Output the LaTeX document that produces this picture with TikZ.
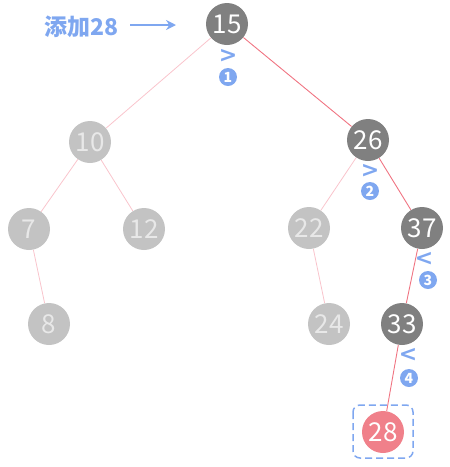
\documentclass[tikz,border=0pt]{standalone}
\usepackage{fontspec}
\setmainfont{Noto Sans CJK SC}
\newfontfamily\signfont{DejaVu Sans}
\usetikzlibrary{arrows.meta,positioning}
\definecolor{visited}{HTML}{808080}
\definecolor{idle}{HTML}{C3C3C3}
\definecolor{idletext}{HTML}{E8E8E8}
\definecolor{fresh}{HTML}{F0808A}
\definecolor{hint}{HTML}{7FA7F0}
\definecolor{faint}{HTML}{F9C4CC}
\definecolor{route}{HTML}{F07482}

\begin{document}
\begin{tikzpicture}[
    x = 1pt, y = -1pt, % pixel grid
    > = {Stealth[length=10pt,width=10pt]}, % arrow head style
    semithick % line style
    ]

    \tikzset{
    key/.style = {circle, minimum size = 42pt, inner sep = 0pt,
        font = \fontsize{26}{28}\selectfont},
    visitednode/.style = {key, fill = visited, text = white},
    idlenode/.style = {key, fill = idle, text = idletext},
    freshnode/.style = {key, fill = fresh, text = white},
    faintedge/.style = {draw = faint, line width = 0.8pt},
    routeedge/.style = {draw = route, line width = 0.9pt},
    cmpsign/.style = {text = hint, inner sep = 0pt,
        font = \fontsize{22}{22}\signfont\bfseries},
    stepnum/.style = {circle, fill = hint, text = white, minimum size = 18pt,
        inner sep = 0pt, font = \fontsize{14}{14}\selectfont\bfseries}
    }
    \useasboundingbox (0,0) rectangle (450,467);

    % tree
    \node[visitednode] (n15) at (227,24) {15};
    \node[idlenode] (n10) at (90,142) {10};
    \node[visitednode] (n26) at (368,140) {26};
    \node[idlenode] (n7) at (29,229) {7};
    \node[idlenode] (n12) at (144,229) {12};
    \node[idlenode] (n22) at (309,228) {22};
    \node[visitednode] (n37) at (422,228) {37};
    \node[idlenode] (n8) at (49,324) {8};
    \node[idlenode] (n24) at (329,324) {24};
    \node[visitednode] (n33) at (402,324) {33};
    \node[freshnode] (n28) at (383,432) {28};

    \path[faintedge] (n15) -- (n10);
    \path[faintedge] (n10) -- (n7);
    \path[faintedge] (n10) -- (n12);
    \path[faintedge] (n7) -- (n8);
    \path[faintedge] (n26) -- (n22);
    \path[faintedge] (n22) -- (n24);
    \path[routeedge] (n15) -- (n26);
    \path[routeedge] (n26) -- (n37);
    \path[routeedge] (n37) -- (n33);
    \path[routeedge] (n33) -- (n28);

    % comparisons
    \node[cmpsign] (c1) at (228,56) {>};
    \node[stepnum] (s1) at (228,77) {1};
    \node[cmpsign] (c2) at (370,171) {>};
    \node[stepnum] (s2) at (370,191) {2};
    \node[cmpsign] (c3) at (424,259) {<};
    \node[stepnum] (s3) at (428,280) {3};
    \node[cmpsign] (c4) at (408,355) {<};
    \node[stepnum] (s4) at (409,378) {4};

    % insert
    \node[text = hint, font = \fontsize{23}{26}\selectfont\bfseries] (add) at (82,27) {添加28};
    \coordinate (tail) at (130,25);
    \coordinate (tip) at (176,25);
    \draw[->, hint, line width = 1.8pt] (tail) -- (tip);
    \draw[hint, line width = 1.5pt, dash pattern = on 7pt off 4pt, rounded corners = 7pt]
        (n28.center) ++(-30,-27) rectangle ++(60,53);
\end{tikzpicture}
\end{document}
